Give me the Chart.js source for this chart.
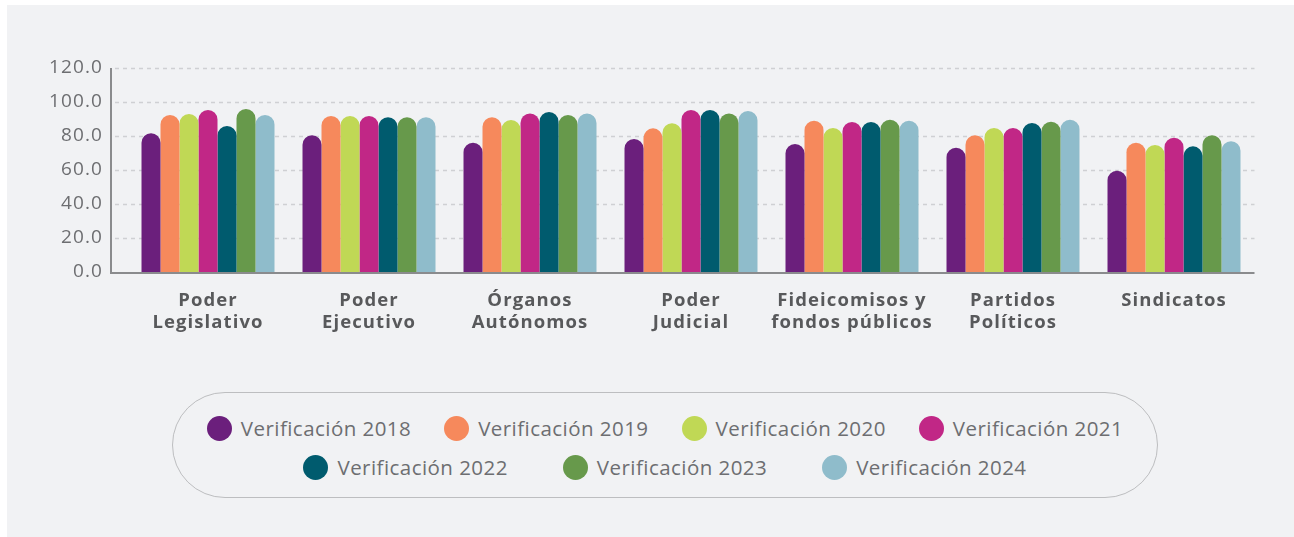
<!DOCTYPE html>
<html>
<head>
<meta charset="utf-8">
<script src="https://cdn.jsdelivr.net/npm/chart.js@4"></script>
<style>
  html, body { margin: 0; background: #fff; }
  #panel { position: absolute; left: 7px; top: 5px; width: 1287px; height: 532px; background: #f1f2f4; }
  #wrap { position: absolute; left: 0; top: 0; width: 1287px; height: 350px; }
  #legend { position: absolute; left: 165px; top: 387px; width: 986px; height: 106px;
            border: 1px solid #bdbec0; border-radius: 53px; box-sizing: border-box; }
  .row { position: absolute; left: 0; right: 0; height: 26px; display: flex; justify-content: center; align-items: center; }
  .item { display: flex; align-items: center; font: 400 20.5px 'Open Sans', sans-serif; letter-spacing: 0.45px; color: #6d6e71; }
  .dot { width: 25px; height: 25px; border-radius: 50%; margin-right: 9px; }
</style>
</head>
<body>
<div id="panel">
  <div id="wrap"><canvas id="c"></canvas></div>
  <div id="legend"></div>
</div>
<script>
// ── data ───────────────────────────────────────────────────────────────────
const categories = [
  ['Poder', 'Legislativo'], ['Poder', 'Ejecutivo'], ['Órganos', 'Autónomos'],
  ['Poder', 'Judicial'], ['Fideicomisos y', 'fondos públicos'],
  ['Partidos', 'Políticos'], ['Sindicatos'],
];
const seriesNames = ['Verificación 2018', 'Verificación 2019', 'Verificación 2020', 'Verificación 2021',
                     'Verificación 2022', 'Verificación 2023', 'Verificación 2024'];
const v2018 = [81.6, 80.4, 76.1, 78.2, 75.3, 73.1, 59.6];
const v2019 = [92.4, 91.8, 91.0, 84.5, 89.0, 80.4, 76.1];
const v2020 = [92.9, 91.8, 89.4, 87.5, 84.7, 84.7, 74.7];
const v2021 = [95.3, 91.8, 93.3, 95.3, 88.2, 84.7, 79.0];
const v2022 = [85.9, 91.0, 94.1, 95.3, 88.2, 87.6, 73.9];
const v2023 = [95.9, 91.0, 92.4, 93.3, 89.6, 88.4, 80.4];
const v2024 = [92.4, 91.0, 93.3, 94.7, 89.0, 89.6, 76.9];
const yTicks = [0, 20, 40, 60, 80, 100, 120];

// palette
const COLORS = ['#6b1f7c', '#f6895c', '#c0d855', '#c12786', '#005b6e', '#67994b', '#8fbccb'];
const GRID = '#cfd0d3', AXIS = '#8a8b8d', TICK = '#6d6e71', LABEL = '#58595b';
const FONT = "'Open Sans', sans-serif";
const AXIS_SHIFT = 16.5;   // y-axis line sits left of the first category slot

// dashed grid + axis lines, y-axis drawn a bit left of the plot area
const axisLines = {
  id: 'axisLines',
  beforeDraw(chart) { chart.ctx.letterSpacing = '1.1px'; },   // wider type, like the original
  beforeDatasetsDraw(chart) {
    const { ctx, chartArea: a, scales: { y } } = chart;
    const x0 = a.left - AXIS_SHIFT;
    ctx.save();
    ctx.strokeStyle = GRID; ctx.lineWidth = 1.5; ctx.setLineDash([4, 4]);
    yTicks.forEach(v => {
      if (v === 0) return;
      const py = Math.round(y.getPixelForValue(v)) + 0.5;
      ctx.beginPath(); ctx.moveTo(x0 + 4, py); ctx.lineTo(a.right, py); ctx.stroke();
    });
    ctx.restore();
  },
  afterDatasetsDraw(chart) {
    const { ctx, chartArea: a, scales: { y } } = chart;
    const x0 = a.left - AXIS_SHIFT;
    const yb = y.getPixelForValue(0) + 1;
    ctx.save();
    ctx.strokeStyle = AXIS; ctx.lineWidth = 2;
    ctx.beginPath();
    ctx.moveTo(x0, y.getPixelForValue(120)); ctx.lineTo(x0, yb); ctx.lineTo(a.right, yb);
    ctx.stroke();
    ctx.restore();
  },
};

const allValues = [v2018, v2019, v2020, v2021, v2022, v2023, v2024];

new Chart(document.getElementById('c'), {
  type: 'bar',
  data: {
    labels: categories,
    datasets: allValues.map((vals, i) => ({
      label: seriesNames[i], data: vals, backgroundColor: COLORS[i],
      borderRadius: 10, borderSkipped: 'start',
      categoryPercentage: 0.826, barPercentage: 1.0,
    })),
  },
  options: {
    responsive: true, maintainAspectRatio: false, animation: false,
    layout: { padding: { top: 63, right: 39.5, left: 0, bottom: 0 } },
    plugins: { legend: { display: false }, tooltip: { enabled: false } },
    scales: {
      x: {
        grid: { display: false, drawTicks: false }, border: { display: false },
        ticks: { color: LABEL, font: { family: FONT, size: 18.5, weight: 'bold', lineHeight: 1.17 }, padding: 18, maxRotation: 0, autoSkip: false },
        afterFit: s => { s.height = 83; },
      },
      y: {
        min: 0, max: 120,
        afterBuildTicks: s => { s.ticks = yTicks.map(v => ({ value: v })); },
        grid: { display: false, drawTicks: false }, border: { display: false },
        ticks: { color: TICK, font: { family: FONT, size: 19 }, padding: 24.5, callback: v => v.toFixed(1) },
        afterFit: s => { s.width = 120.5; },
      },
    },
  },
  plugins: [axisLines],
});

// HTML legend: two centred rows inside a pill
const legend = document.getElementById('legend');
const rows = [[0, 1, 2, 3], [4, 5, 6]];
const rowTops = [22, 61], rowGaps = [33, 55];
rows.forEach((idx, r) => {
  const row = document.createElement('div');
  row.className = 'row';
  row.style.top = rowTops[r] + 'px';
  row.style.gap = rowGaps[r] + 'px';
  idx.forEach(i => {
    row.insertAdjacentHTML('beforeend',
      `<div class="item"><span class="dot" style="background:${COLORS[i]}"></span>${seriesNames[i]}</div>`);
  });
  legend.appendChild(row);
});
</script>
</body>
</html>
